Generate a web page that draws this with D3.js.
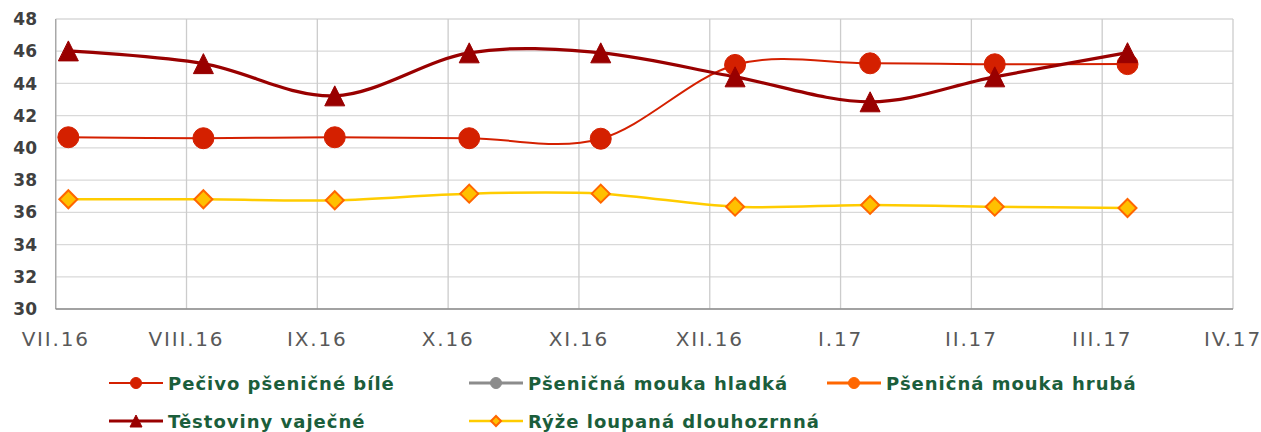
<!DOCTYPE html>
<html><head><meta charset="utf-8">
<script src="https://cdn.jsdelivr.net/npm/d3@7"></script>
<style>html,body{margin:0;padding:0;background:#fff;}svg{display:block;}</style>
</head><body>
<svg id="chart" width="1261" height="432"></svg>
<script>
// ---- data ----
const monthLabels = ["VII.16","VIII.16","IX.16","X.16","XI.16","XII.16","I.17","II.17","III.17","IV.17"];
const obsDates = ["2016-07-04","2016-08-05","2016-09-05","2016-10-06","2016-11-06","2016-12-07","2017-01-08","2017-02-06","2017-03-07"];
const pecivo = [40.66, 40.6, 40.66, 40.6, 40.57, 45.15, 45.25, 45.19, 45.2];
const moukaHladka = [null,null,null,null,null,null,null,null,null]; // below visible range
const moukaHruba = [null,null,null,null,null,null,null,null,null];  // below visible range
const testoviny = [46.02, 45.23, 43.23, 45.9, 45.9, 44.41, 42.86, 44.41, 45.91];
const ryze = [36.81, 36.81, 36.75, 37.16, 37.16, 36.35, 36.46, 36.35, 36.27];
const yTicks = [30,32,34,36,38,40,42,44,46,48];
const seriesNames = ["Pečivo pšeničné bílé","Pšeničná mouka hladká","Pšeničná mouka hrubá","Těstoviny vaječné","Rýže loupaná dlouhozrnná"];

// ---- styles ----
const styles = [
  {values: pecivo, color:"#d42000", width:2, marker:"circle", fill:"#d42000", stroke:"#d42000", size:10.5, lsize:5.5},
  {values: moukaHladka, color:"#8c8c8c", width:3, marker:"circle", fill:"#8c8c8c", stroke:"#8c8c8c", size:6, lsize:5.5},
  {values: moukaHruba, color:"#ff6600", width:3, marker:"circle", fill:"#ff6600", stroke:"#ff6600", size:6, lsize:5.5},
  {values: testoviny, color:"#990000", width:3.2, marker:"triangle", fill:"#990000", stroke:"#990000", size:10, lsize:6},
  {values: ryze, color:"#ffcc00", width:2.5, marker:"diamond", fill:"#ffc000", stroke:"#ff6600", size:9, lsize:5}
];

const svg = d3.select("#chart");
const L = 55.7, R = 1233, T = 19, B = 309;

// month-position helper (month index since VII.16 + fraction of month)
function monthPos(s){
  const d = new Date(s + "T00:00:00");
  const idx = (d.getFullYear()-2016)*12 + d.getMonth() - 6;
  const dim = new Date(d.getFullYear(), d.getMonth()+1, 0).getDate();
  return idx + (d.getDate()-1)/dim;
}
const x = d3.scaleLinear().domain([0, monthLabels.length-1]).range([L, R]);
const y = d3.scaleLinear().domain([30, 48]).range([B, T]);

// gridlines
const g = svg.append("g");
g.selectAll("line.h").data(yTicks).join("line")
  .attr("x1", L).attr("x2", R).attr("y1", d=>y(d)).attr("y2", d=>y(d))
  .attr("stroke", "#d9d9d9").attr("stroke-width", 1.3);
g.selectAll("line.v").data(monthLabels).join("line")
  .attr("x1", (d,i)=>x(i)).attr("x2", (d,i)=>x(i)).attr("y1", T).attr("y2", B)
  .attr("stroke", "#cccccc").attr("stroke-width", 1.3);
// axes lines
g.append("line").attr("x1", L).attr("x2", L).attr("y1", T).attr("y2", B).attr("stroke", "#a6a6a6").attr("stroke-width", 1.3);
g.append("line").attr("x1", L).attr("x2", R).attr("y1", B).attr("y2", B).attr("stroke", "#8c8c8c").attr("stroke-width", 1.3);

// y labels
svg.append("g").selectAll("text").data(yTicks).join("text")
  .attr("x", 37).attr("y", d=>y(d)).attr("dy", "0.36em")
  .attr("text-anchor", "end")
  .attr("font-family", "DejaVu Sans, Verdana, sans-serif").attr("font-weight", "bold")
  .attr("font-size", 17).attr("fill", "#404040").text(d=>d);
// x labels
svg.append("g").selectAll("text").data(monthLabels).join("text")
  .attr("x", (d,i)=>x(i)).attr("y", 346)
  .attr("text-anchor", "middle")
  .attr("font-family", "DejaVu Sans, Verdana, sans-serif")
  .attr("font-size", 20).attr("letter-spacing", 1.8).attr("fill", "#595959").text(d=>d);

// series
const xs = obsDates.map(monthPos);
const line = d3.line().defined(d=>d[1]!=null).x(d=>x(d[0])).y(d=>y(d[1])).curve(d3.curveCardinal.tension(0));
svg.append("clipPath").attr("id","clip").append("rect").attr("x",0).attr("y",0).attr("width",1261).attr("height",B);

function markerPath(type, s){
  if(type==="triangle") return `M0,${-s}L${s},${s}L${-s},${s}Z`;
  if(type==="diamond") return `M0,${-s}L${s},0L0,${s}L${-s},0Z`;
  return null;
}
function drawMarker(sel, st, cx, cy, s){
  if(st.marker==="circle"){
    sel.append("circle").attr("cx",cx).attr("cy",cy).attr("r",s).attr("fill",st.fill).attr("stroke",st.stroke);
  } else {
    sel.append("path").attr("d", markerPath(st.marker, s)).attr("transform",`translate(${cx},${cy})`)
      .attr("fill",st.fill).attr("stroke",st.stroke).attr("stroke-width", st.marker==="diamond"?2:1).attr("stroke-linejoin","miter");
  }
}

const sg = svg.append("g").attr("clip-path","url(#clip)");
styles.forEach(st=>{
  const pts = xs.map((xv,i)=>[xv, st.values[i]]);
  sg.append("path").datum(pts).attr("d", line).attr("fill","none")
    .attr("stroke", st.color).attr("stroke-width", st.width).attr("stroke-linejoin","round");
  const mg = sg.append("g");
  pts.forEach(p=>{ if(p[1]!=null) drawMarker(mg, st, x(p[0]), y(p[1]), st.size); });
});

// legend
const legPos = [[109,383],[469,383],[827,383],[109,421],[469,421]];
const lg = svg.append("g");
styles.forEach((st,i)=>{
  const [lx, ly] = legPos[i];
  lg.append("line").attr("x1",lx).attr("x2",lx+54).attr("y1",ly).attr("y2",ly)
    .attr("stroke",st.color).attr("stroke-width", st.width);
  drawMarker(lg, st, lx+27, ly, st.lsize);
  lg.append("text").attr("x", lx+59).attr("y", ly+6.5)
    .attr("font-family","DejaVu Sans, Verdana, sans-serif").attr("font-weight","bold")
    .attr("font-size",18).attr("letter-spacing",1.0).attr("fill","#1b5e3b").text(seriesNames[i]);
});
</script>
</body></html>
